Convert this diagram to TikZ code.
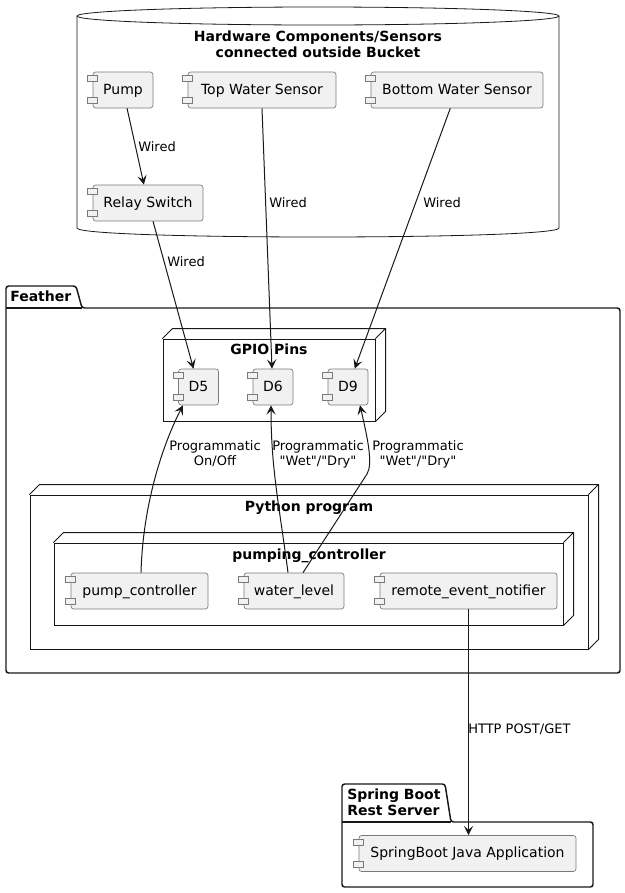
\documentclass[tikz,border=0pt]{standalone}
\usepackage{fontspec}
\setmainfont{DejaVu Sans}
\usetikzlibrary{calc,arrows.meta}
\definecolor{compfill}{HTML}{F1F1F1}
\definecolor{compline}{HTML}{7A7A7A}
\definecolor{ink}{HTML}{181818}
\def\px{0.75pt}
\newcommand\boxfaces[1]{%
  \draw[boxline] (#1.north west) -- ++(10,-10) -- ($(#1.north east)+(10,-10)$) -- ($(#1.south east)+(10,-10)$) -- (#1.south east)
    (#1.north east) -- ++(10,-10);}

\begin{document}
\begin{tikzpicture}[x=\px,y=-\px]
  \tikzset{component/.style={draw=compline,fill=compfill,rounded corners=2pt,line width=.5pt,minimum height=36*\px,inner sep=0pt,text height=8.4pt,text depth=2pt,font=\fontsize{10.5}{12}\selectfont},
    tabbox/.style={draw=compline,fill=compfill,line width=.5pt},
    boxline/.style={draw=ink,line width=.75pt},
    pkg/.style={draw=ink,line width=1.1pt,rounded corners=2pt},
    boxtitle/.style={font=\fontsize{10.5}{12}\selectfont\bfseries,inner sep=0pt},
    wire/.style={draw=ink,line width=.75pt,-{Stealth[length=7pt,width=7pt,inset=3pt]}},
    lbl/.style={font=\fontsize{9.75}{11.25}\selectfont,inner sep=0pt}}
  \useasboundingbox (0,0) rectangle (625,893);

  % bucket
  \draw[boxline,line width=.6pt] (77,16) -- (77,228) .. controls (77,240) and (559,240) .. (559,228) -- (559,16);
  \draw[boxline,line width=.6pt] (318,16) ellipse [x radius=180.75pt,y radius=6.75pt];
  \node[boxtitle,align=center,anchor=base] (buckettitle) at (318,57) {Hardware Components/Sensors\\connected outside Bucket};

  % packages
  \draw[pkg] (6,308) -- (6,286) -- (76,286) -- (82,308) -- (620,308) -- (620,673) -- (6,673) -- cycle;
  \draw[pkg] (6,308) -- (82,308);
  \node[boxtitle,anchor=base west] (feathertitle) at (10,301) {Feather};
  \draw[pkg] (342,822) -- (342,784) -- (445,784) -- (451,822) -- (593,822) -- (593,887) -- (342,887) -- cycle;
  \draw[pkg] (342,822) -- (451,822);
  \node[boxtitle,align=left,anchor=base west] (springtitle) at (347,815) {Spring Boot\\Rest Server};

  % nodes
  \node[boxline,minimum width=212*\px,minimum height=82*\px] (gpio) at (269,380) {};
  \boxfaces{gpio}
  \node[boxtitle,anchor=base] at (269,354) {GPIO Pins};
  \node[boxline,minimum width=558*\px,minimum height=154*\px] (python) at (309,572) {};
  \boxfaces{python}
  \node[boxtitle,anchor=base] at (309,511) {Python program};
  \node[boxline,minimum width=509*\px,minimum height=82*\px] (pumping) at (308.5,584) {};
  \boxfaces{pumping}
  \node[boxtitle,anchor=base] at (309,559) {pumping\_controller};

  % components
  \node[component,minimum width=60*\px] (pump) at (123,90) {Pump};
  \node[component,minimum width=148*\px] (topsensor) at (262,90) {Top Water Sensor};
  \node[component,minimum width=172*\px] (bottomsensor) at (457,90) {Bottom Water Sensor};
  \node[component,minimum width=110*\px] (relay) at (148,203) {Relay Switch};
  \node[component,minimum width=40*\px] (dfive) at (198.5,387) {D5};
  \node[component,minimum width=40*\px] (dsix) at (273,387) {D6};
  \node[component,minimum width=40*\px] (dnine) at (348,387) {D9};
  \node[component,minimum width=137*\px] (pumpctl) at (139.5,591) {pump\_controller};
  \node[component,minimum width=100*\px] (waterlvl) at (294,591) {water\_level};
  \node[component,minimum width=177*\px] (notifier) at (468.5,591) {remote\_event\_notifier};
  \node[component,minimum width=217*\px] (springapp) at (467.5,853.5) {SpringBoot Java Application};
  \foreach \c in {pump,topsensor,bottomsensor,relay,dfive,dsix,dnine,pumpctl,waterlvl,notifier,springapp}{
    \draw[tabbox] ($(\c.north west)+(-5,4)$) rectangle ++(10,6);
    \draw[tabbox] ($(\c.south west)+(-5,-11)$) rectangle ++(10,6);
  }

  % connectors
  \draw[wire] (pump) -- (relay);
  \draw[wire] (relay) -- (dfive);
  \draw[wire] (topsensor.south) -- ($(dsix.north)+(-1,0)$);
  \draw[wire] (bottomsensor) -- (dnine);
  \coordinate (bend) at (367,474);
  \draw[wire] ($(pumpctl.north)+(1.5,0)$) .. controls (143,500) and (165,440) .. ($(dfive.south)+(-15.5,0)$);
  \draw[wire] ($(waterlvl.north)+(-6,0)$) .. controls (280,510) and (271,470) .. ($(dsix.south)+(-2,0)$);
  \draw[wire] ($(waterlvl.north)+(9,0)$) -- (bend) .. controls (373,464) and (368,440) .. ($(dnine.south)+(12,0)$);
  \draw[wire] (notifier.south) -- (notifier.south |- springapp.north);

  % labels
  \node[lbl,anchor=base west] (wiredpump) at (138,151) {Wired};
  \node[lbl,anchor=base west] (wiredrelay) at (167,266) {Wired};
  \node[lbl,anchor=base west] (wiredtop) at (269,207) {Wired};
  \node[lbl,anchor=base west] (wiredbottom) at (423,207) {Wired};
  \node[lbl,align=center,anchor=base] (progfive) at (215,465) {Programmatic\\On/Off};
  \node[lbl,align=center,anchor=base] (progsix) at (318,465) {Programmatic\\\textquotedbl Wet\textquotedbl/\textquotedbl Dry\textquotedbl};
  \node[lbl,align=center,anchor=base] (prognine) at (418,465) {Programmatic\\\textquotedbl Wet\textquotedbl/\textquotedbl Dry\textquotedbl};
  \node[lbl,anchor=base west] (httplbl) at (468,733) {HTTP POST/GET};
\end{tikzpicture}
\end{document}
